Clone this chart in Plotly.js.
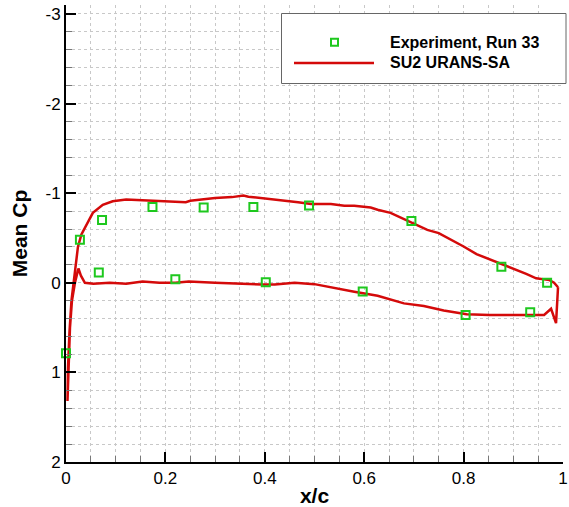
<!DOCTYPE html>
<html>
<head>
<meta charset="utf-8">
<script src="https://cdn.plot.ly/plotly-3.0.1.min.js"></script>
<style>html,body{margin:0;padding:0;background:#fff;}#chart{width:569px;height:507px;}</style>
</head>
<body>
<div id="chart"></div>
<script>
// Experimental data (Run 33)
const expX = [0.0, 0.028, 0.0725, 0.066, 0.174, 0.22, 0.277, 0.377, 0.402, 0.489, 0.597, 0.695, 0.804, 0.876, 0.934, 0.968];
const expCp = [0.785, -0.48, -0.70, -0.115, -0.845, -0.04, -0.84, -0.845, -0.007, -0.863, 0.097, -0.69, 0.36, -0.18, 0.33, 0.0];

// SU2 URANS-SA surface distribution (upper TE -> LE -> lower TE)
const su2X = [0.990, 0.982, 0.973, 0.946, 0.926, 0.906, 0.880, 0.852, 0.826, 0.800, 0.770, 0.750, 0.727, 0.700, 0.680, 0.653, 0.627, 0.613, 0.580, 0.560, 0.533, 0.493, 0.467, 0.433, 0.400, 0.367, 0.357, 0.334, 0.300, 0.267, 0.250, 0.241, 0.220, 0.201, 0.161, 0.121, 0.094, 0.074, 0.054, 0.041, 0.031, 0.024, 0.018, 0.011, 0.007, 0.004, 0.003,
  0.005, 0.008, 0.012, 0.018, 0.025, 0.030, 0.038, 0.055, 0.088, 0.121, 0.154, 0.188, 0.220, 0.247, 0.300, 0.340, 0.394, 0.420, 0.460, 0.500, 0.540, 0.580, 0.627, 0.680, 0.720, 0.760, 0.806, 0.852, 0.912, 0.962, 0.976, 0.986, 0.990];
const su2Cp = [0.05, 0.00, -0.03, -0.05, -0.10, -0.145, -0.20, -0.26, -0.32, -0.405, -0.49, -0.555, -0.59, -0.66, -0.71, -0.78, -0.815, -0.84, -0.86, -0.86, -0.88, -0.88, -0.90, -0.92, -0.945, -0.96, -0.974, -0.956, -0.945, -0.926, -0.915, -0.90, -0.905, -0.91, -0.926, -0.93, -0.91, -0.87, -0.78, -0.65, -0.54, -0.40, -0.10, 0.20, 0.55, 0.95, 1.32,
  0.90, 0.50, 0.20, 0.00, -0.16, -0.08, 0.00, 0.01, 0.00, 0.01, -0.015, 0.00, 0.00, -0.015, 0.00, 0.01, 0.02, 0.02, 0.00, 0.015, 0.06, 0.10, 0.145, 0.23, 0.26, 0.31, 0.35, 0.36, 0.36, 0.36, 0.29, 0.45, 0.05];

const yTickVals = [-3, -2, -1, 0, 1, 2];
const yTickText = ['-3', '-2', '-1', '0', '1', '2'];
const legendNames = ['Experiment, Run 33', 'SU2 URANS-SA'];

const green = '#1ec81e';
const red = '#d40a0a';
const font = 'Liberation Sans, Arial, Helvetica, sans-serif';

// pixel -> paper helpers for the hand-drawn legend box (plot area 66..563 x 5..462)
const px = v => (v - 66) / 497;
const py = v => (462 - v) / 457;

const traces = [
  {x: su2X, y: su2Cp, mode: 'lines', name: legendNames[1], line: {color: red, width: 2.5}, showlegend: false},
  {x: expX, y: expCp, mode: 'markers', name: legendNames[0], cliponaxis: false,
   marker: {symbol: 'square-open', size: 8, color: green, line: {color: green, width: 2}}, showlegend: false}
];

const layout = {
  width: 569, height: 507,
  margin: {l: 66, r: 6, t: 5, b: 45},
  paper_bgcolor: '#fff', plot_bgcolor: '#fff',
  font: {family: font, size: 17, color: '#000'},
  showlegend: false,
  xaxis: {
    range: [0, 1], dtick: 0.2, tick0: 0,
    ticklabeloverflow: 'allow',
    showline: true, linecolor: '#000', linewidth: 2,
    ticks: 'inside', ticklen: 10, tickwidth: 2, tickcolor: '#000',
    showgrid: true, gridcolor: '#c8c8c8', gridwidth: 1, griddash: 'dot',
    zeroline: false,
    tickfont: {family: font, size: 17},
    minor: {dtick: 0.05, tick0: 0, ticks: 'inside', ticklen: 6, tickwidth: 1, tickcolor: '#777', showgrid: true, gridcolor: '#c8c8c8', griddash: 'dot', gridwidth: 1},
    title: {text: '<b>x/c</b>', font: {family: font, size: 21}, standoff: 6}
  },
  yaxis: {
    range: [2, -3.1],
    tickmode: 'array', tickvals: yTickVals, ticktext: yTickText,
    showline: true, linecolor: '#000', linewidth: 2,
    ticks: 'inside', ticklen: 10, tickwidth: 2, tickcolor: '#000',
    showgrid: true, gridcolor: '#c8c8c8', gridwidth: 1, griddash: 'dot',
    zeroline: false,
    tickfont: {family: font, size: 17},
    minor: {tickmode: 'linear', dtick: 0.2, tick0: 0, ticks: 'inside', ticklen: 6, tickwidth: 1, tickcolor: '#777', showgrid: true, gridcolor: '#c8c8c8', griddash: 'dot', gridwidth: 1},
    title: {text: '<b>Mean Cp</b>', font: {family: font, size: 21}, standoff: 12}
  },
  shapes: [
    {type: 'rect', xref: 'paper', yref: 'paper', x0: px(281.5), x1: px(566), y0: py(83.5), y1: py(13.5),
     fillcolor: '#fff', line: {color: '#666', width: 1}, layer: 'above'},
    {type: 'line', xref: 'paper', yref: 'paper', x0: px(294), x1: px(374), y0: py(63), y1: py(63),
     line: {color: red, width: 2.5}, layer: 'above'},
    {type: 'rect', xref: 'paper', yref: 'paper', xsizemode: 'pixel', ysizemode: 'pixel',
     xanchor: px(334.5), yanchor: py(42.3), x0: -3.5, x1: 3.5, y0: -3.5, y1: 3.5,
     line: {color: green, width: 2}, fillcolor: 'rgba(0,0,0,0)', layer: 'above'}
  ],
  annotations: [
    {xref: 'paper', yref: 'paper', x: px(388), y: py(42.3), xanchor: 'left', yanchor: 'middle', showarrow: false,
     text: '<b>' + legendNames[0] + '</b>', font: {family: font, size: 16, color: '#000'}},
    {xref: 'paper', yref: 'paper', x: px(388), y: py(63), xanchor: 'left', yanchor: 'middle', showarrow: false,
     text: '<b>' + legendNames[1] + '</b>', font: {family: font, size: 16, color: '#000'}}
  ]
};

Plotly.newPlot('chart', traces, layout, {displayModeBar: false, staticPlot: true});
</script>
</body>
</html>
